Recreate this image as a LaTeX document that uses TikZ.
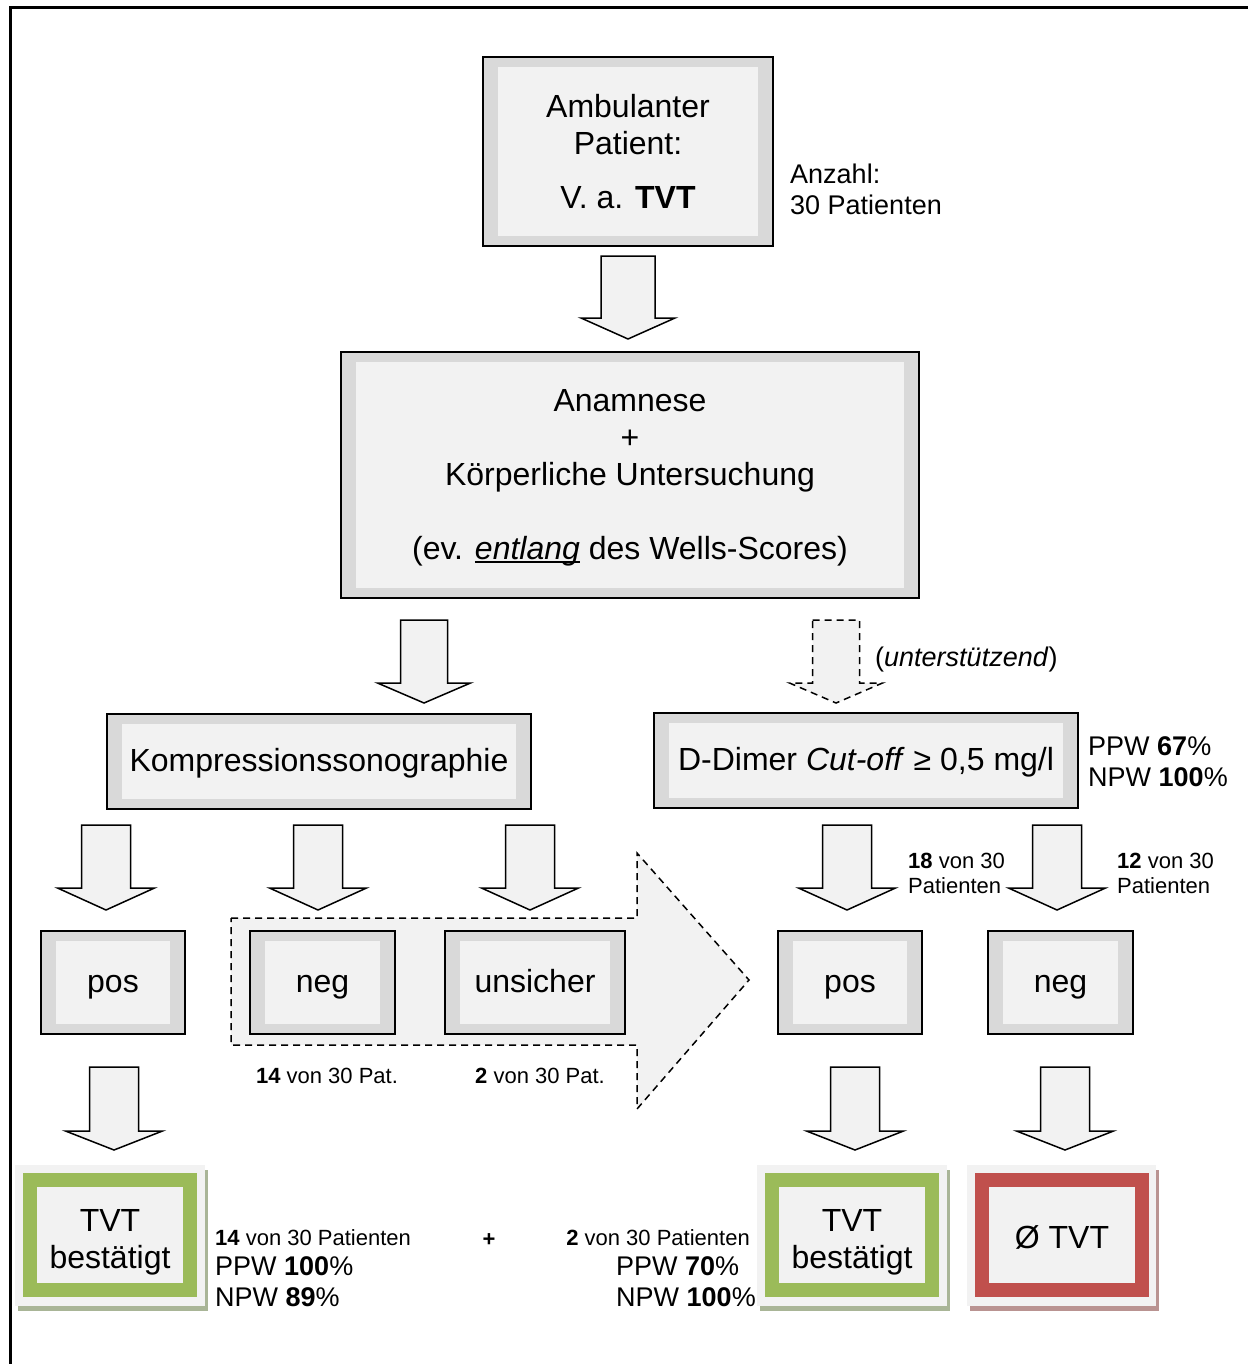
\documentclass[tikz,border=0pt]{standalone}
\usepackage{fontspec}
\setmainfont{Liberation Sans}
\definecolor{band}{HTML}{D9D9D9}
\definecolor{light}{HTML}{F2F2F2}
\definecolor{okgreen}{HTML}{9BBB59}
\definecolor{badred}{HTML}{C0504D}
\definecolor{greenshadow}{HTML}{A9B597}
\definecolor{redshadow}{HTML}{B99391}
\newcommand\ulx[1]{\setbox0\hbox{#1}\rlap{\rule[-3pt]{\wd0}{1.8pt}}\box0\relax}
\tikzset{
  big/.style={font=\fontsize{32pt}{37pt}\selectfont},
  mid/.style={font=\fontsize{27pt}{31pt}\selectfont},
  small/.style={font=\fontsize{22pt}{25pt}\selectfont},
  graybox/.style={draw=black, line width=2pt, fill=band, align=center, inner sep=0pt,
    path picture={\fill[light] ([xshift=15pt,yshift=-10pt]path picture bounding box.north west) rectangle ([xshift=-15pt,yshift=10pt]path picture bounding box.south east);}},
  onebox/.style={graybox, big, text height=26pt, text depth=7pt},
  resbox/.style={fill=light, line width=14pt, inner sep=0pt, minimum width=160pt, minimum height=110pt},
  boxtext/.style={big, align=center, inner sep=0pt},
  arrowshape/.style={fill=light, draw=black, line width=1.5pt, line join=miter},
  dashedshape/.style={fill=light, draw=black, line width=1.5pt, dash pattern=on 7pt off 5pt},
  lbl/.style={inner sep=0pt, anchor=base west},
}
\newcommand\blockarrow[7][]{%
  \draw[arrowshape,#1] ({#2-#6},#3) -- ({#2+#6},#3) -- ({#2+#6},#4) -- ({#2+#7},#4) -- (#2,#5) -- ({#2-#7},#4) -- ({#2-#6},#4) -- cycle;}
\begin{document}
\begin{tikzpicture}[x=1pt,y=-1pt]
\useasboundingbox (0,0) rectangle (1247,1364);
% outer frame
\draw[line width=3pt, line join=miter] (10,1370) -- (10,8) -- (1250,8);

% top box
\node[graybox, big, minimum width=290pt, minimum height=189pt] (amb) at (628,151.5)
  {Ambulanter\\Patient:\\[17pt]V. a. \textbf{TVT}};
\node[lbl, mid] (anz1) at (790,184) {Anzahl:};
\node[lbl, mid] (anz2) at (790,215) {30 Patienten};

\blockarrow{628}{256}{318}{339}{27}{47}

% anamnese box
\node[graybox, minimum width=578pt, minimum height=246pt] (anam) at (630,475) {};
\node[boxtext] (anamtext) at (630,478)
  {Anamnese\\+\\Körperliche Untersuchung\\[37pt](ev. \ulx{\textit{entlang}} des Wells-Scores)};

\blockarrow{424}{620}{683}{703}{23.5}{46.5}
\blockarrow[dashedshape]{836}{620}{683}{703}{23.5}{46.5}
\node[lbl, mid] (unt) at (875,666) {(\textit{unterstützend})};

% second level
\node[onebox, minimum width=424pt, minimum height=95pt] (kus) at (319,761.5) {Kompressionssonographie};
\node[onebox, minimum width=424pt, minimum height=95pt] (dd) at (866,760.5) {D-Dimer \textit{Cut-off} ≥ 0,5 mg/l};
\node[lbl, mid] (ppw1) at (1088,755) {PPW \textbf{67}\%};
\node[lbl, mid] (npw1) at (1088,786) {NPW \textbf{100}\%};

% row arrows
\blockarrow{106}{825}{888}{910}{24.5}{48.5}
\blockarrow{318}{825}{888}{910}{24.5}{48.5}
\blockarrow{530}{825}{888}{910}{24.5}{48.5}
\blockarrow{847}{825}{888}{910}{24.5}{48.5}
\blockarrow{1057}{825}{888}{910}{24.5}{48.5}
\node[lbl, small] (l18a) at (908,868) {\textbf{18} von 30};
\node[lbl, small] (l18b) at (908,893) {Patienten};
\node[lbl, small] (l12a) at (1117,868) {\textbf{12} von 30};
\node[lbl, small] (l12b) at (1117,893) {Patienten};

% big dashed arrow
\draw[dashedshape] (231,918) -- (637,918) -- (637,853) -- (749,980) -- (637,1109) -- (637,1045) -- (231,1045) -- cycle;

% result row
\node[onebox, minimum width=144pt, minimum height=103pt] (pos1) at (113,982.5) {pos};
\node[onebox, minimum width=145pt, minimum height=103pt] (neg1) at (322.5,982.5) {neg};
\node[onebox, minimum width=180pt, minimum height=103pt] (uns) at (535,982.5) {unsicher};
\node[onebox, minimum width=144pt, minimum height=103pt] (pos2) at (850,982.5) {pos};
\node[onebox, minimum width=145pt, minimum height=103pt] (neg2) at (1060.5,982.5) {neg};
\node[small, inner sep=0pt, anchor=base] (p14) at (327,1083) {\textbf{14} von 30 Pat.};
\node[small, inner sep=0pt, anchor=base] (p2) at (540,1083) {\textbf{2} von 30 Pat.};

% bottom arrows
\blockarrow{114}{1067}{1131}{1150}{24.5}{48.5}
\blockarrow{855}{1067}{1131}{1150}{24.5}{48.5}
\blockarrow{1065}{1067}{1131}{1150}{24.5}{48.5}

% final boxes
\fill[greenshadow] (18,1170) rectangle (208,1311);
\fill[light] (15,1165) rectangle (205,1306);
\node[resbox, draw=okgreen] (tvt1) at (110,1235) {};
\node[boxtext] (tvt1text) at (110,1242) {TVT\\bestätigt};

\fill[greenshadow] (760,1170) rectangle (950,1311);
\fill[light] (757,1165) rectangle (947,1306);
\node[resbox, draw=okgreen] (tvt2) at (852,1235) {};
\node[boxtext] (tvt2text) at (852,1242) {TVT\\bestätigt};

\fill[redshadow] (970,1170) rectangle (1159,1311);
\fill[light] (967,1165) rectangle (1156,1306);
\node[resbox, draw=badred] (notvt) at (1062,1235) {};
\node[boxtext] (notvttext) at (1062,1237) {Ø TVT};

% bottom labels
\node[lbl, small] (r14) at (215,1245) {\textbf{14} von 30 Patienten};
\node[lbl, mid] (r14p) at (215,1275) {PPW \textbf{100}\%};
\node[lbl, mid] (r14n) at (215,1306) {NPW \textbf{89}\%};
\node[small, inner sep=0pt, anchor=base] (plus) at (489,1246) {\textbf{+}};
\node[small, inner sep=0pt, anchor=base east] (r2) at (750,1245) {\textbf{2} von 30 Patienten};
\node[lbl, mid] (r2p) at (616,1275) {PPW \textbf{70}\%};
\node[lbl, mid] (r2n) at (616,1306) {NPW \textbf{100}\%};
\end{tikzpicture}
\end{document}
